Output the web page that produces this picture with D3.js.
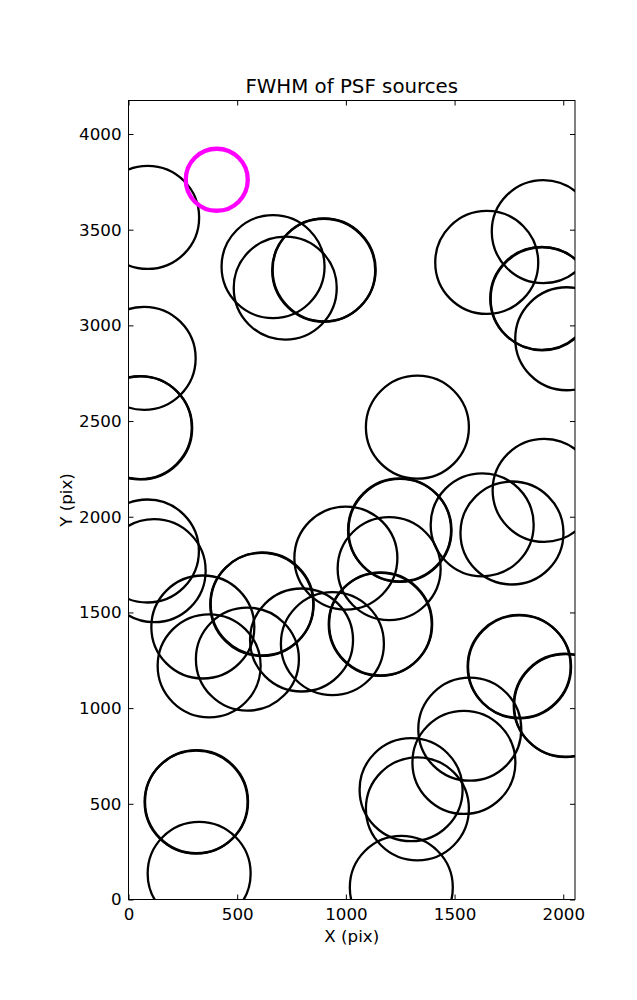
<!DOCTYPE html>
<html>
<head>
<meta charset="utf-8">
<script src="https://cdn.jsdelivr.net/npm/d3@7"></script>
<style>
  html, body { margin: 0; padding: 0; background: #fff; }
  svg { display: block; font-family: "DejaVu Sans", sans-serif; }
</style>
</head>
<body>
<svg id="chart" width="637" height="1000"></svg>
<script>
// ---- data (pixel coordinates of sources, image frame) ----
const sourceX = [88, 665, 721, 898, 900, 1648, 1908, 1901, 1903, 2016,
                 72, 54, 56, 1329, 1912, 1627, 1764, 1247, 1249, 1000,
                 1199, 87, 118, 342, 371, 613, 615, 547, 796, 938,
                 1158, 1160, 1797, 1799, 2009, 2011, 1570, 1543, 1300, 1329,
                 1255, 311, 313, 325];
const sourceY = [3564, 3307, 3195, 3288, 3290, 3329, 3490, 3141, 3139, 2930,
                 2828, 2466, 2464, 2468, 2138, 1958, 1915, 1931, 1929, 1784,
                 1729, 1821, 1718, 1424, 1221, 1542, 1544, 1256, 1356, 1337,
                 1438, 1440, 1218, 1216, 1015, 1013, 890, 716, 574, 474,
                 63, 509, 511, 136];
const highlightX = [406];
const highlightY = [3761];
const xTicks = [0, 500, 1000, 1500, 2000];
const yTicks = [0, 500, 1000, 1500, 2000, 2500, 3000, 3500, 4000];
const xDomain = [0, 2054];
const yDomain = [0, 4175];
const titleText = "FWHM of PSF sources";
const xLabel = "X (pix)";
const yLabel = "Y (pix)";

// ---- layout ----
const svg = d3.select("#chart");
const L = 128.5, R = 575, T = 100.5, B = 899.5;
const x = d3.scaleLinear().domain(xDomain).range([L, R]);
const y = d3.scaleLinear().domain(yDomain).range([B, T]);

svg.append("defs").append("clipPath").attr("id", "clip")
  .append("rect").attr("x", L).attr("y", T).attr("width", R - L).attr("height", B - T);

const plot = svg.append("g").attr("clip-path", "url(#clip)");

const pts = sourceX.map((v, i) => ({x: v, y: sourceY[i]}));
plot.selectAll("circle.src").data(pts).enter().append("circle")
  .attr("class", "src")
  .attr("cx", d => x(d.x)).attr("cy", d => y(d.y))
  .attr("r", 51.5)
  .attr("fill", "none").attr("stroke", "#000").attr("stroke-width", 2.3);

const hl = highlightX.map((v, i) => ({x: v, y: highlightY[i]}));
plot.selectAll("circle.hl").data(hl).enter().append("circle")
  .attr("class", "hl")
  .attr("cx", d => x(d.x)).attr("cy", d => y(d.y))
  .attr("r", 31)
  .attr("fill", "none").attr("stroke", "#ff00ff").attr("stroke-width", 4.3);

// ---- axes ----
const fs = "16.7px";
const gx = svg.append("g").attr("transform", `translate(0,${B})`)
  .call(d3.axisBottom(x).tickValues(xTicks).tickFormat(d3.format("d"))
    .tickSizeInner(-5).tickSizeOuter(0).tickPadding(8.6));
const gxt = svg.append("g").attr("transform", `translate(0,${T})`)
  .call(d3.axisTop(x).tickValues(xTicks).tickFormat("")
    .tickSizeInner(-5).tickSizeOuter(0));
const gy = svg.append("g").attr("transform", `translate(${L},0)`)
  .call(d3.axisLeft(y).tickValues(yTicks).tickFormat(d3.format("d"))
    .tickSizeInner(-5).tickSizeOuter(0).tickPadding(7));
const gyr = svg.append("g").attr("transform", `translate(${R},0)`)
  .call(d3.axisRight(y).tickValues(yTicks).tickFormat("")
    .tickSizeInner(-5).tickSizeOuter(0));

[gx, gxt, gy, gyr].forEach(g => {
  g.select(".domain").remove();
  g.selectAll(".tick line").attr("stroke", "#000").attr("stroke-width", 1);
  g.selectAll(".tick text").attr("fill", "#000")
    .style("font-size", fs).style("font-family", "DejaVu Sans, sans-serif");
});

svg.append("rect").attr("x", L).attr("y", T).attr("width", R - L).attr("height", B - T)
  .attr("fill", "none").attr("stroke", "#000").attr("stroke-width", 1);

// ---- texts ----
svg.append("text").attr("x", (L + R) / 2).attr("y", 93)
  .attr("text-anchor", "middle").style("font-size", "19.8px").text(titleText);
svg.append("text").attr("x", (L + R) / 2).attr("y", 942)
  .attr("text-anchor", "middle").style("font-size", fs).text(xLabel);
svg.append("text").attr("transform", `translate(71.5,${(T + B) / 2}) rotate(-90)`)
  .attr("text-anchor", "middle").style("font-size", fs).text(yLabel);
</script>
</body>
</html>
